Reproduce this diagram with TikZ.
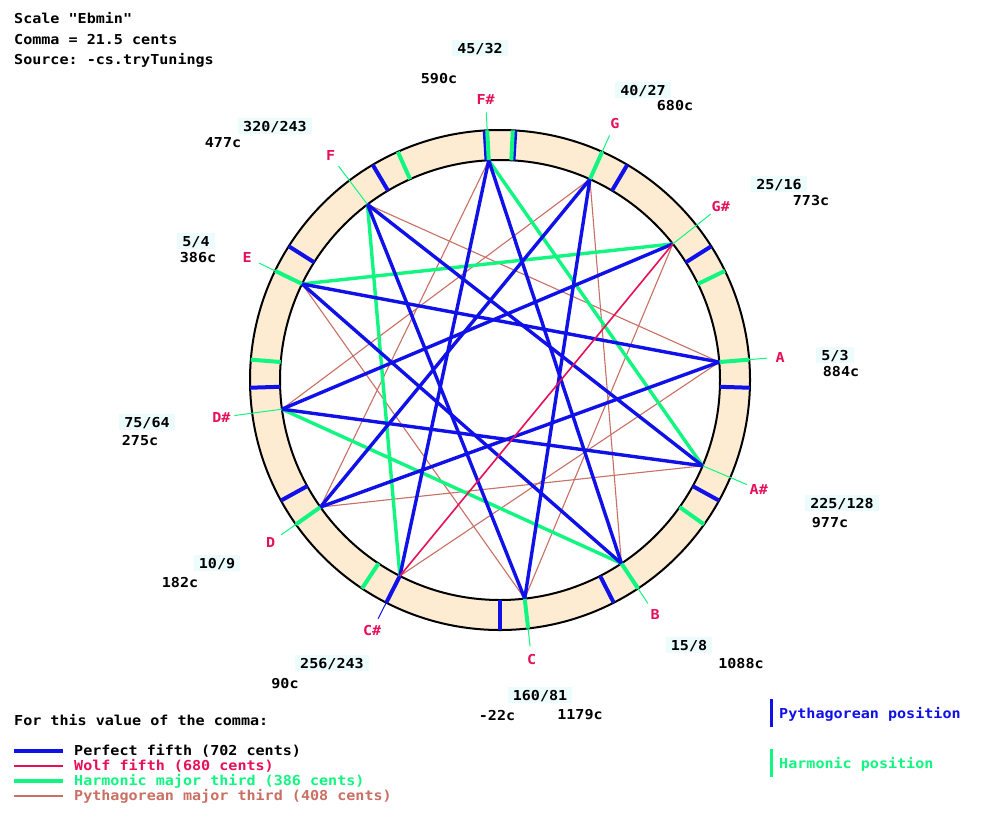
\documentclass[tikz,border=0pt]{standalone}
\usepackage{fontspec}
\setmonofont[FakeStretch=1.1]{DejaVu Sans Mono}
\definecolor{ringbeige}{RGB}{253,236,210}
\definecolor{fifthblue}{RGB}{16,16,232}
\definecolor{harmgreen}{RGB}{16,246,128}
\definecolor{wolfred}{RGB}{230,16,88}
\definecolor{pythbrown}{RGB}{200,112,100}
\definecolor{ratiobg}{RGB}{236,252,252}

\begin{document}
\begin{tikzpicture}[x=1pt,y=-1pt,font=\ttfamily\bfseries\fontsize{13.7}{16}\selectfont,
    fifth/.style={draw=fifthblue,line width=3.4pt},
    wolf/.style={draw=wolfred,line width=1.6pt},
    harmthird/.style={draw=harmgreen,line width=3.4pt},
    pyththird/.style={draw=pythbrown,line width=1.1pt},
    postick/.style={line width=4pt},
    txt/.style={anchor=base west,inner sep=0pt},
    lbl/.style={inner sep=0pt,text height=10pt,text depth=0pt},
    notename/.style={lbl,text=wolfred},
    ratio/.style={lbl,fill=ratiobg,inner xsep=5pt,inner ysep=3pt}]
    \fill[white] (0,0) rectangle (1000,820);
    \useasboundingbox (0,0) rectangle (1000,820);

    \node[txt] (title) at (14,23) {Scale "Ebmin"};
    \node[txt] (comma) at (14,44) {Comma = 21.5 cents};
    \node[txt] (source) at (14,64) {Source: -cs.tryTunings};

    \begin{scope}[shift={(500,380)}]
      \path[fill=ringbeige,even odd rule] (0,0) circle (250) circle (220);
      \draw[line width=2pt] (0,0) circle (250);
      \draw[line width=2pt] (0,0) circle (220);
      \foreach \c in {0,90.2,203.9,294.1,407.8,498,588.3,611.7,702,792.2,905.9,996.1,1109.8}
        \draw[postick,fifthblue] ({90+0.3*\c}:220) -- ({90+0.3*\c}:250);
      \foreach \c in {-21.5,111.7,182.4,315.6,386.3,519.6,590.2,609.8,680.4,813.7,884.4,1017.6,1088.3}
        \draw[postick,harmgreen] ({90+0.3*\c}:220) -- ({90+0.3*\c}:250);
      \foreach \n/\c/\lab/\col in {C/-21.5/C/harmgreen,Cs/90.2/C\#/fifthblue,D/182.4/D/harmgreen,
          Ds/274.6/D\#/harmgreen,E/386.3/E/harmgreen,F/476.5/F/harmgreen,Fs/590.2/F\#/harmgreen,
          G/680.4/G/harmgreen,Gs/772.6/G\#/harmgreen,A/884.4/A/harmgreen,As/976.5/A\#/harmgreen,
          B/1088.3/B/harmgreen} {
        \coordinate (\n) at ({90+0.3*\c}:220);
        \draw[\col,line width=1pt] (\n) -- ({90+0.3*\c}:268);
        \node[notename] (l\n) at ({90+0.3*\c}:281) {\lab};
      }
    \end{scope}

    \draw[pyththird] (C) -- (E);
    \draw[pyththird] (D) -- (Fs);
    \draw[pyththird] (Ds) -- (G);
    \draw[pyththird] (F) -- (A);
    \draw[pyththird] (G) -- (B);
    \draw[pyththird] (Gs) -- (C);
    \draw[pyththird] (A) -- (Cs);
    \draw[pyththird] (As) -- (D);
    \draw[harmthird] (Cs) -- (F);
    \draw[harmthird] (E) -- (Gs);
    \draw[harmthird] (Fs) -- (As);
    \draw[harmthird] (B) -- (Ds);
    \draw[fifth] (C) -- (G);
    \draw[fifth] (G) -- (D);
    \draw[fifth] (D) -- (A);
    \draw[fifth] (A) -- (E);
    \draw[fifth] (E) -- (B);
    \draw[fifth] (B) -- (Fs);
    \draw[fifth] (Fs) -- (Cs);
    \draw[fifth] (Gs) -- (Ds);
    \draw[fifth] (Ds) -- (As);
    \draw[fifth] (As) -- (F);
    \draw[fifth] (F) -- (C);
    \draw[wolf] (Cs) -- (Gs);

    \node[ratio] (rFs) at (480,48) {45/32};
    \node[lbl] (cFs) at (439,78) {590c};
    \node[ratio] (rG) at (643,90) {40/27};
    \node[lbl] (cG) at (675,105) {680c};
    \node[ratio] (rGs) at (779,184) {25/16};
    \node[lbl] (cGs) at (811,200) {773c};
    \node[ratio] (rA) at (835,355) {5/3};
    \node[lbl] (cA) at (841,371) {884c};
    \node[ratio] (rAs) at (842,503) {225/128};
    \node[lbl] (cAs) at (830,522) {977c};
    \node[ratio] (rB) at (689,645) {15/8};
    \node[lbl] (cB) at (741,663) {1088c};
    \node[ratio] (rC) at (540,695) {160/81};
    \node[lbl] (cC) at (497,715) {-22c};
    \node[lbl] (cCb) at (580,714) {1179c};
    \node[ratio] (rCs) at (332,663) {256/243};
    \node[lbl] (cCs) at (285,683) {90c};
    \node[ratio] (rD) at (217,563) {10/9};
    \node[lbl] (cD) at (180,582) {182c};
    \node[ratio] (rDs) at (147,422) {75/64};
    \node[lbl] (cDs) at (140,440) {275c};
    \node[ratio] (rE) at (196,241) {5/4};
    \node[lbl] (cE) at (198,257) {386c};
    \node[ratio] (rF) at (275,126) {320/243};
    \node[lbl] (cF) at (223,142) {477c};

    \node[txt] (forcomma) at (14,725) {For this value of the comma:};
    \draw[fifthblue,line width=4pt] (14,750.5) -- (63,750.5);
    \node[txt] (lgfifth) at (74,755) {Perfect fifth (702 cents)};
    \draw[wolfred,line width=2pt] (14,765.5) -- (63,765.5);
    \node[txt,text=wolfred] (lgwolf) at (74,770) {Wolf fifth (680 cents)};
    \draw[harmgreen,line width=4pt] (14,780.5) -- (63,780.5);
    \node[txt,text=harmgreen] (lgharm) at (74,785) {Harmonic major third (386 cents)};
    \draw[pythbrown,line width=2pt] (14,795.5) -- (63,795.5);
    \node[txt,text=pythbrown] (lgpyth) at (74,800) {Pythagorean major third (408 cents)};

    \draw[fifthblue,line width=3pt] (771,699) -- (771,727);
    \node[txt,text=fifthblue] (pospyth) at (779,718) {Pythagorean position};
    \draw[harmgreen,line width=3pt] (771,749) -- (771,777);
    \node[txt,text=harmgreen] (posharm) at (779,768) {Harmonic position};
\end{tikzpicture}
\end{document}
